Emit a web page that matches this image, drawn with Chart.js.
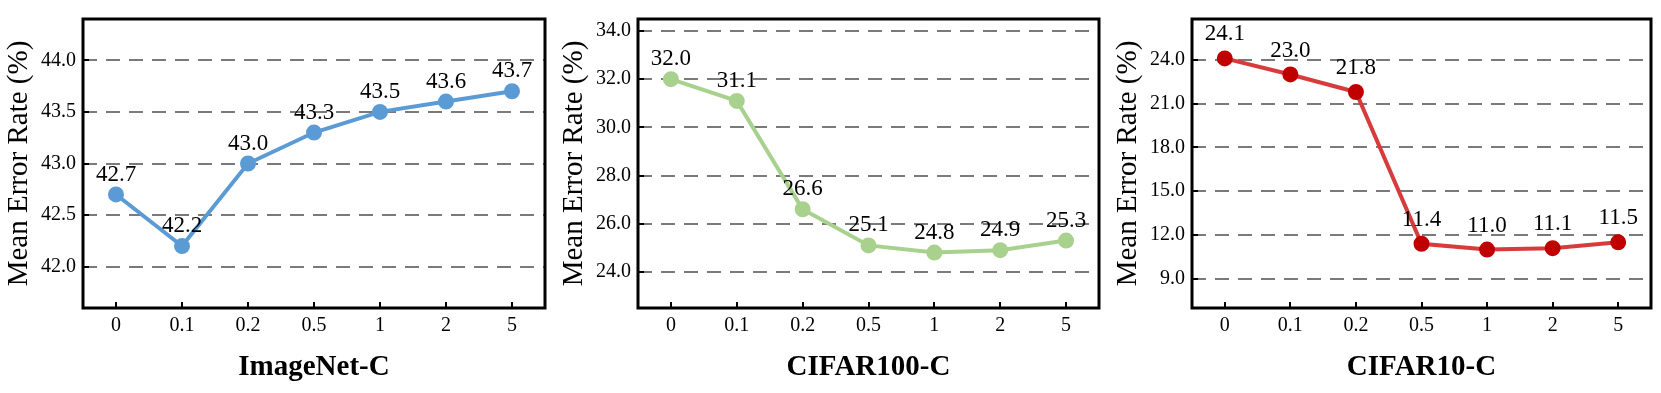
<!DOCTYPE html>
<html>
<head>
<meta charset="utf-8">
<script src="https://cdn.jsdelivr.net/npm/chart.js@4"></script>
<style>
body { margin: 0; background: #fff; width: 1661px; height: 393px; overflow: hidden; }
canvas { position: absolute; top: 0; }
</style>
</head>
<body>
<canvas id="c1" width="555" height="393" style="left:0px"></canvas>
<canvas id="c2" width="554" height="393" style="left:555px"></canvas>
<canvas id="c3" width="552" height="393" style="left:1109px"></canvas>
<script>
// Datos
const categorias = ['0', '0.1', '0.2', '0.5', '1', '2', '5'];
const imagenetC = [42.7, 42.2, 43.0, 43.3, 43.5, 43.6, 43.7];
const cifar100C = [32.0, 31.1, 26.6, 25.1, 24.8, 24.9, 25.3];
const cifar10C = [24.1, 23.0, 21.8, 11.4, 11.0, 11.1, 11.5];
const ticksImagenet = [42.0, 42.5, 43.0, 43.5, 44.0];
const ticksCifar100 = [24, 26, 28, 30, 32, 34];
const ticksCifar10 = [9, 12, 15, 18, 21, 24];

const serif = "'Liberation Serif', 'Times New Roman', serif";

// Plugin para el marco, la rejilla punteada, las marcas hacia dentro y las etiquetas
const marco = {
    id: 'marco',
    beforeDatasetsDraw(chart) {
        const ctx = chart.ctx;
        const a = chart.chartArea;
        const y = chart.scales.y;
        ctx.save();
        ctx.strokeStyle = '#7a7a7a';
        ctx.lineWidth = 2;
        ctx.setLineDash([14, 9]);
        y.ticks.forEach(function(t) {
            const py = Math.round(y.getPixelForValue(t.value));
            ctx.beginPath();
            ctx.moveTo(a.left, py);
            ctx.lineTo(a.right, py);
            ctx.stroke();
        });
        ctx.restore();
    },
    afterDatasetsDraw(chart, args, opts) {
        const ctx = chart.ctx;
        const a = chart.chartArea;
        const x = chart.scales.x;
        const y = chart.scales.y;
        ctx.save();
        // marcas hacia dentro
        ctx.strokeStyle = '#000';
        ctx.lineWidth = 2;
        x.ticks.forEach(function(t, i) {
            const px = Math.round(x.getPixelForTick(i));
            ctx.beginPath();
            ctx.moveTo(px, a.bottom);
            ctx.lineTo(px, a.bottom - 6);
            ctx.stroke();
        });
        y.ticks.forEach(function(t) {
            const py = Math.round(y.getPixelForValue(t.value));
            ctx.beginPath();
            ctx.moveTo(a.left, py);
            ctx.lineTo(a.left + 6, py);
            ctx.stroke();
        });
        // marco
        ctx.lineWidth = 3;
        ctx.strokeRect(a.left, a.top, a.right - a.left, a.bottom - a.top);
        // etiquetas de los valores
        ctx.fillStyle = '#000';
        ctx.font = '23px ' + serif;
        ctx.textAlign = 'center';
        ctx.textBaseline = 'middle';
        const meta = chart.getDatasetMeta(0);
        const valores = chart.data.datasets[0].data;
        meta.data.forEach(function(p, i) {
            ctx.fillText(valores[i].toFixed(1), p.x, p.y - opts.offset);
        });
        ctx.restore();
    }
};

function crearGrafica(id, valores, ticks, min, max, linea, punto, titulo, derecha, offset) {
    const ctx = document.getElementById(id).getContext('2d');
    new Chart(ctx, {
        type: 'line',
        data: {
            labels: categorias,
            datasets: [{
                data: valores,
                borderColor: linea,
                backgroundColor: punto,
                pointBackgroundColor: punto,
                pointBorderColor: punto,
                borderWidth: 4,
                pointRadius: 6,
                tension: 0
            }]
        },
        options: {
            responsive: false,
            animation: false,
            devicePixelRatio: 1,
            layout: { padding: { top: 13, right: derecha, left: 0, bottom: 0 } },
            plugins: {
                legend: { display: false },
                tooltip: { enabled: false },
                marco: { offset: offset }
            },
            scales: {
                x: {
                    type: 'category',
                    offset: true,
                    grid: { display: false, drawTicks: false },
                    border: { display: false },
                    ticks: { color: '#000', font: { family: serif, size: 20 }, padding: 6 },
                    title: {
                        display: true,
                        text: titulo,
                        color: '#000',
                        font: { family: serif, size: 29, weight: 'bold' },
                        padding: { top: 0, bottom: 8 }
                    },
                    afterFit: function(s) { s.height = 85; }
                },
                y: {
                    type: 'linear',
                    min: min,
                    max: max,
                    grid: { display: false, drawTicks: false },
                    border: { display: false },
                    afterBuildTicks: function(s) { s.ticks = ticks.map(function(v) { return { value: v }; }); },
                    ticks: {
                        color: '#000',
                        font: { family: serif, size: 20 },
                        padding: 7,
                        callback: function(v) { return Number(v).toFixed(1); }
                    },
                    title: {
                        display: true,
                        text: 'Mean Error Rate (%)',
                        color: '#000',
                        font: { family: serif, size: 29 },
                        padding: { top: 2, bottom: 0 }
                    },
                    afterFit: function(s) { s.width = 83; }
                }
            }
        },
        plugins: [marco]
    });
}

crearGrafica('c1', imagenetC, ticksImagenet, 41.6, 44.4, '#5b9bd5', '#5b9bd5', 'ImageNet-C', 7, 20);
crearGrafica('c2', cifar100C, ticksCifar100, 22.5, 34.5, '#a9d18e', '#a9d18e', 'CIFAR100-C', 8, 20);
crearGrafica('c3', cifar10C, ticksCifar10, 7, 26.8, '#d83b3b', '#c00000', 'CIFAR10-C', 6, 24);
</script>
</body>
</html>
